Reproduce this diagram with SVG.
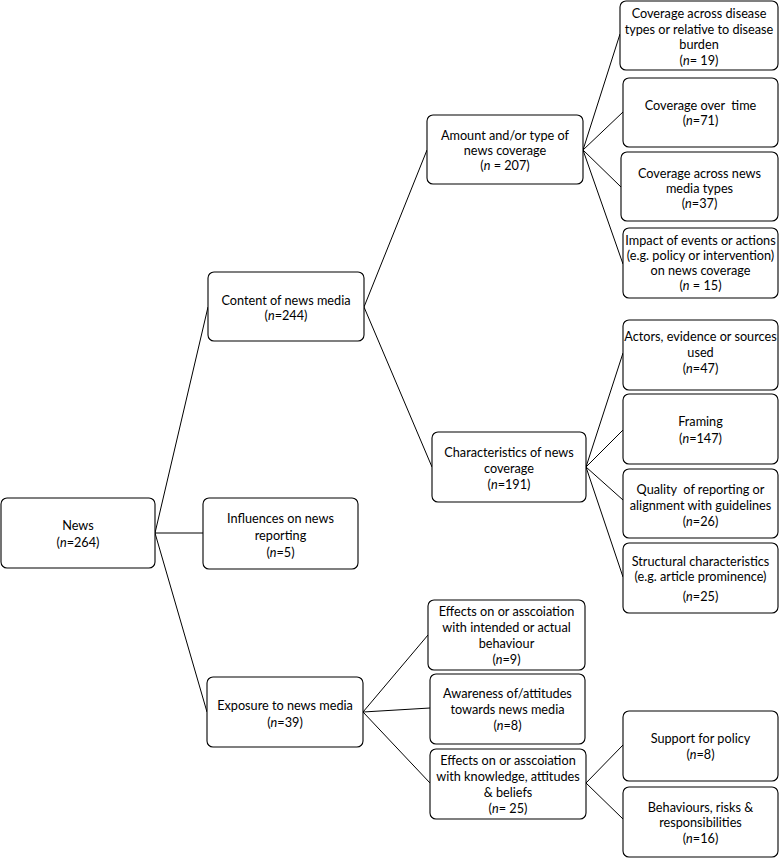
<svg xmlns="http://www.w3.org/2000/svg" width="779" height="858" viewBox="0 0 779 858">
<style>
.b{fill:#fff;stroke:#000;stroke-width:1.1}
text{font-family:Lato,"Liberation Sans",sans-serif;font-size:12.7px;fill:#000;text-anchor:middle;white-space:pre}
.i{font-style:italic}
#connectors line{stroke:#000;stroke-width:1}
</style>
<rect width="779" height="858" fill="#fff"/>
<g id="connectors">
<line x1="155" y1="533" x2="208" y2="307"/>
<line x1="155" y1="533" x2="203" y2="533"/>
<line x1="155" y1="533" x2="207" y2="712"/>
<line x1="364" y1="307" x2="427" y2="150"/>
<line x1="364" y1="307" x2="432" y2="467"/>
<line x1="583" y1="150" x2="620" y2="34"/>
<line x1="583" y1="150" x2="623" y2="112"/>
<line x1="583" y1="150" x2="621" y2="187"/>
<line x1="583" y1="150" x2="623" y2="264"/>
<line x1="586" y1="467" x2="623" y2="353"/>
<line x1="586" y1="467" x2="623" y2="430"/>
<line x1="586" y1="467" x2="623" y2="500"/>
<line x1="586" y1="467" x2="623" y2="577"/>
<line x1="363" y1="712" x2="428" y2="635"/>
<line x1="363" y1="712" x2="430" y2="708"/>
<line x1="363" y1="712" x2="430" y2="783"/>
<line x1="586" y1="783" x2="623" y2="745"/>
<line x1="586" y1="783" x2="623" y2="819"/>
</g>
<g id="news"><rect class="b" x="1" y="498" width="154" height="70" rx="6"/>
<text x="78" y="530">News</text><text x="78" y="547">(<tspan class="i">n</tspan>=264)</text></g>
<g id="content"><rect class="b" x="208" y="272" width="156" height="69" rx="6"/>
<text x="286" y="305">Content of news media</text><text x="286" y="320">(<tspan class="i">n</tspan>=244)</text></g>
<g id="influences"><rect class="b" x="203" y="498" width="155" height="71" rx="6"/>
<text x="280.5" y="523">Influences on news</text><text x="280.5" y="540">reporting</text><text x="280.5" y="557">(<tspan class="i">n</tspan>=5)</text></g>
<g id="exposure"><rect class="b" x="207" y="677" width="156" height="70" rx="6"/>
<text x="285" y="709.5">Exposure to news media</text><text x="285" y="726.5">(<tspan class="i">n</tspan>=39)</text></g>
<g id="amount"><rect class="b" x="427" y="115" width="156" height="69" rx="6"/>
<text x="505" y="139.5">Amount and/or type of</text><text x="505" y="154.5">news coverage</text><text x="505" y="169.5">(<tspan class="i">n</tspan> = 207)</text></g>
<g id="characteristics"><rect class="b" x="432" y="432" width="154" height="70" rx="6"/>
<text x="509" y="457">Characteristics of news</text><text x="509" y="473">coverage</text><text x="509" y="489">(<tspan class="i">n</tspan>=191)</text></g>
<g id="cov-disease"><rect class="b" x="620" y="1" width="158" height="69" rx="6"/>
<text x="699" y="18">Coverage across disease</text><text x="699" y="33.5">types or relative to disease</text><text x="699" y="49">burden</text><text x="699" y="64.5">(<tspan class="i">n</tspan>= 19)</text></g>
<g id="cov-time"><rect class="b" x="623" y="78" width="155" height="69" rx="6"/>
<text x="700.5" y="109.5">Coverage over  time</text><text x="700.5" y="124.5">(<tspan class="i">n</tspan>=71)</text></g>
<g id="cov-media"><rect class="b" x="621" y="152" width="157" height="69" rx="6"/>
<text x="699.5" y="177.5">Coverage across news</text><text x="699.5" y="192.5">media types</text><text x="699.5" y="207.5">(<tspan class="i">n</tspan>=37)</text></g>
<g id="impact"><rect class="b" x="623" y="228" width="155" height="70" rx="6"/>
<text x="700.5" y="244.5">Impact of events or actions</text><text x="700.5" y="259.5">(e.g. policy or intervention)</text><text x="700.5" y="274.5">on news coverage</text><text x="700.5" y="289.5">(<tspan class="i">n</tspan> = 15)</text></g>
<g id="actors"><rect class="b" x="623" y="320" width="155" height="70" rx="6"/>
<text x="700.5" y="341">Actors, evidence or sources</text><text x="700.5" y="357">used</text><text x="700.5" y="373">(<tspan class="i">n</tspan>=47)</text></g>
<g id="framing"><rect class="b" x="623" y="394" width="155" height="70" rx="6"/>
<text x="700.5" y="426">Framing</text><text x="700.5" y="442.5">(<tspan class="i">n</tspan>=147)</text></g>
<g id="quality"><rect class="b" x="623" y="469" width="155" height="69" rx="6"/>
<text x="700.5" y="494">Quality  of reporting or</text><text x="700.5" y="510">alignment with guidelines</text><text x="700.5" y="526">(<tspan class="i">n</tspan>=26)</text></g>
<g id="structural"><rect class="b" x="623" y="543" width="155" height="70" rx="6"/>
<text x="700.5" y="565.5">Structural characteristics</text><text x="700.5" y="581">(e.g. article prominence)</text><text x="700.5" y="601">(<tspan class="i">n</tspan>=25)</text></g>
<g id="effects-behaviour"><rect class="b" x="428" y="600" width="157" height="70" rx="6"/>
<text x="506.5" y="616">Effects on or asscoiation</text><text x="506.5" y="632">with intended or actual</text><text x="506.5" y="648">behaviour</text><text x="506.5" y="664">(<tspan class="i">n</tspan>=9)</text></g>
<g id="awareness"><rect class="b" x="430" y="674" width="155" height="70" rx="6"/>
<text x="507.5" y="697.5">Awareness of/attitudes</text><text x="507.5" y="713.5">towards news media</text><text x="507.5" y="730">(<tspan class="i">n</tspan>=8)</text></g>
<g id="effects-knowledge"><rect class="b" x="430" y="749" width="156" height="70" rx="6"/>
<text x="508" y="764.5">Effects on or asscoiation</text><text x="508" y="781">with knowledge, attitudes</text><text x="508" y="797">&amp; beliefs</text><text x="508" y="813">(<tspan class="i">n</tspan>= 25)</text></g>
<g id="support"><rect class="b" x="623" y="711" width="155" height="70" rx="6"/>
<text x="700.5" y="742.5">Support for policy</text><text x="700.5" y="758.5">(<tspan class="i">n</tspan>=8)</text></g>
<g id="behaviours"><rect class="b" x="623" y="787" width="155" height="70" rx="6"/>
<text x="700.5" y="811.5">Behaviours, risks &amp;</text><text x="700.5" y="827">responsibilities</text><text x="700.5" y="843">(<tspan class="i">n</tspan>=16)</text></g>
</svg>
